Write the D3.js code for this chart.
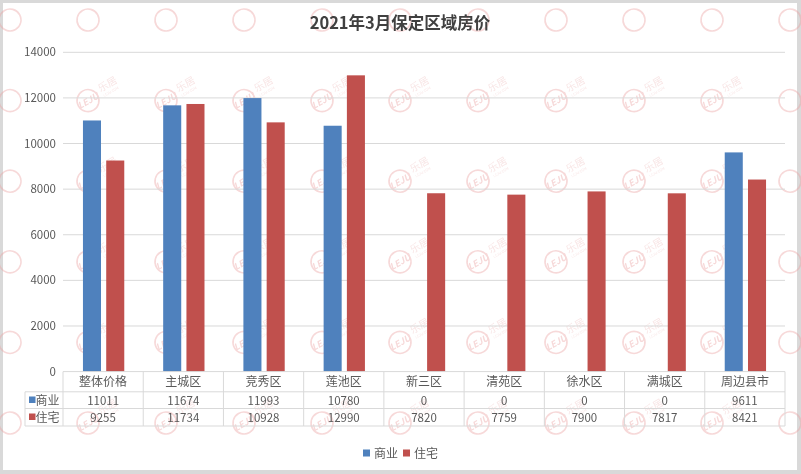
<!DOCTYPE html>
<html>
<head>
<meta charset="utf-8">
<script src="https://cdn.jsdelivr.net/npm/d3@7/dist/d3.min.js"></script>
<style>
  body { margin: 0; background: #fff; }
  svg { display: block; font-family: "Noto Sans CJK SC", "Microsoft YaHei", sans-serif; }
</style>
</head>
<body>
<svg id="chart" width="801" height="474"></svg>
<script>
// data
const categories = ["整体价格", "主城区", "竞秀区", "莲池区", "新三区", "清苑区", "徐水区", "满城区", "周边县市"];
const shangye = [11011, 11674, 11993, 10780, 0, 0, 0, 0, 9611];
const zhuzhai = [9255, 11734, 10928, 12990, 7820, 7759, 7900, 7817, 8421];
const seriesNames = ["商业", "住宅"];
const seriesColors = ["#4f81bd", "#c0504d"];
const yTicks = [0, 2000, 4000, 6000, 8000, 10000, 12000, 14000];

const svg = d3.select('#chart');
const W = 801, H = 474;
const textCol = '#595959';
const gridCol = '#d9d9d9';

// grey frame around the white chart area
svg.append('rect').attr('width', W).attr('height', H).attr('fill', '#d9d9d9');
svg.append('rect').attr('x', 3).attr('y', 3).attr('width', 794).attr('height', 467).attr('fill', '#fff');

// watermark tiles (faint leju logos), text only where the whole tile fits
const wm = svg.append('g').attr('opacity', 0.4);
for (let r = 0; r < 6; r++) {
  for (let c = 0; c < 11; c++) {
    const cx = 10 + c * 78, cy = 20 + r * 80.6;
    const g = wm.append('g')
      .attr('transform', `translate(${cx},${cy}) rotate(-30)`);
    g.append('circle').attr('r', 11).attr('fill', 'none')
      .attr('stroke', '#eaa0a0').attr('stroke-width', 1.6);
    const fits = cx >= 16 && cx <= 758 && cy >= 26 && cy <= 455;
    if (!fits) continue;
    g.append('text').attr('text-anchor', 'middle').attr('y', 3.5)
      .attr('font-size', 9).attr('font-style', 'italic').attr('font-weight', 'bold')
      .attr('fill', '#eaa0a0').text('LEJU');
    g.append('text').attr('x', 15).attr('y', -1)
      .attr('font-size', 10).attr('fill', '#eec0c0').text('乐居');
    g.append('text').attr('x', 16).attr('y', 5)
      .attr('font-size', 3.5).attr('fill', '#eec0c0').text('LEJU.COM');
  }
}

const plotLeft = 63, plotRight = 785, plotTop = 52.3, base = 371.6;

const x = d3.scaleBand().domain(categories).range([plotLeft, plotRight]).padding(0);
const y = d3.scaleLinear().domain([0, 14000]).range([base, plotTop]);
const bw = x.bandwidth();
const barW = bw * 0.225;
const gap = bw * 0.065;

// title
svg.append('text')
  .attr('x', 400).attr('y', 29)
  .attr('text-anchor', 'middle')
  .attr('font-size', 16.5).attr('font-weight', 'bold')
  .attr('fill', '#404040')
  .text('2021年3月保定区域房价');

// gridlines + y labels
svg.append('g').selectAll('line')
  .data(yTicks.filter(d => d > 0))
  .enter().append('line')
  .attr('x1', plotLeft).attr('x2', plotRight)
  .attr('y1', d => y(d)).attr('y2', d => y(d))
  .attr('stroke', gridCol).attr('stroke-width', 1);

svg.append('g').selectAll('text')
  .data(yTicks)
  .enter().append('text')
  .attr('x', 56).attr('y', d => y(d) + 4)
  .attr('text-anchor', 'end')
  .attr('font-size', 11.5).attr('fill', textCol)
  .text(d => d);

// bars
const series = [shangye, zhuzhai];
series.forEach((vals, si) => {
  svg.append('g').selectAll('rect')
    .data(categories)
    .enter().append('rect')
    .attr('x', d => {
      const cx = x(d) + bw / 2;
      return si === 0 ? cx - gap / 2 - barW + 0.5 : cx + gap / 2 + 0.5;
    })
    .attr('y', (d, i) => y(vals[i]))
    .attr('width', barW)
    .attr('height', (d, i) => base - y(vals[i]))
    .attr('fill', seriesColors[si]);
});

// data table below axis
const rowY = [base, 391.8, 408.5, 426];
const tbl = svg.append('g').attr('stroke', gridCol).attr('stroke-width', 1);
tbl.append('line').attr('x1', plotLeft).attr('x2', plotRight).attr('y1', rowY[0]).attr('y2', rowY[0]);
[1, 2, 3].forEach(k => {
  tbl.append('line').attr('x1', 25).attr('x2', plotRight).attr('y1', rowY[k]).attr('y2', rowY[k]);
});
tbl.append('line').attr('x1', 25).attr('x2', 25).attr('y1', rowY[1]).attr('y2', rowY[3]);
tbl.selectAll('line.v')
  .data(categories.concat(['end']))
  .enter().append('line')
  .attr('x1', (d, i) => plotLeft + i * bw).attr('x2', (d, i) => plotLeft + i * bw)
  .attr('y1', rowY[0]).attr('y2', rowY[3]);

svg.append('g').selectAll('text')
  .data(categories)
  .enter().append('text')
  .attr('x', d => x(d) + bw / 2).attr('y', 386)
  .attr('text-anchor', 'middle')
  .attr('font-size', 12).attr('fill', textCol)
  .text(d => d);

series.forEach((vals, si) => {
  const ty = si === 0 ? 404.5 : 421.5;
  svg.append('g').selectAll('text')
    .data(categories)
    .enter().append('text')
    .attr('x', d => x(d) + bw / 2).attr('y', ty)
    .attr('text-anchor', 'middle')
    .attr('font-size', 11.5).attr('fill', textCol)
    .text((d, i) => vals[i]);
  svg.append('rect')
    .attr('x', 29).attr('y', ty - 8).attr('width', 6.5).attr('height', 6.5)
    .attr('fill', seriesColors[si]);
  svg.append('text')
    .attr('x', 35.5).attr('y', ty)
    .attr('font-size', 12).attr('fill', textCol)
    .text(seriesNames[si]);
});

// legend
const legend = svg.append('g');
seriesNames.forEach((name, i) => {
  const lx = 363 + i * 40;
  legend.append('rect').attr('x', lx).attr('y', 449.5).attr('width', 7).attr('height', 7)
    .attr('fill', seriesColors[i]);
  legend.append('text').attr('x', lx + 11).attr('y', 458)
    .attr('font-size', 12).attr('fill', textCol).text(name);
});
</script>
</body>
</html>
